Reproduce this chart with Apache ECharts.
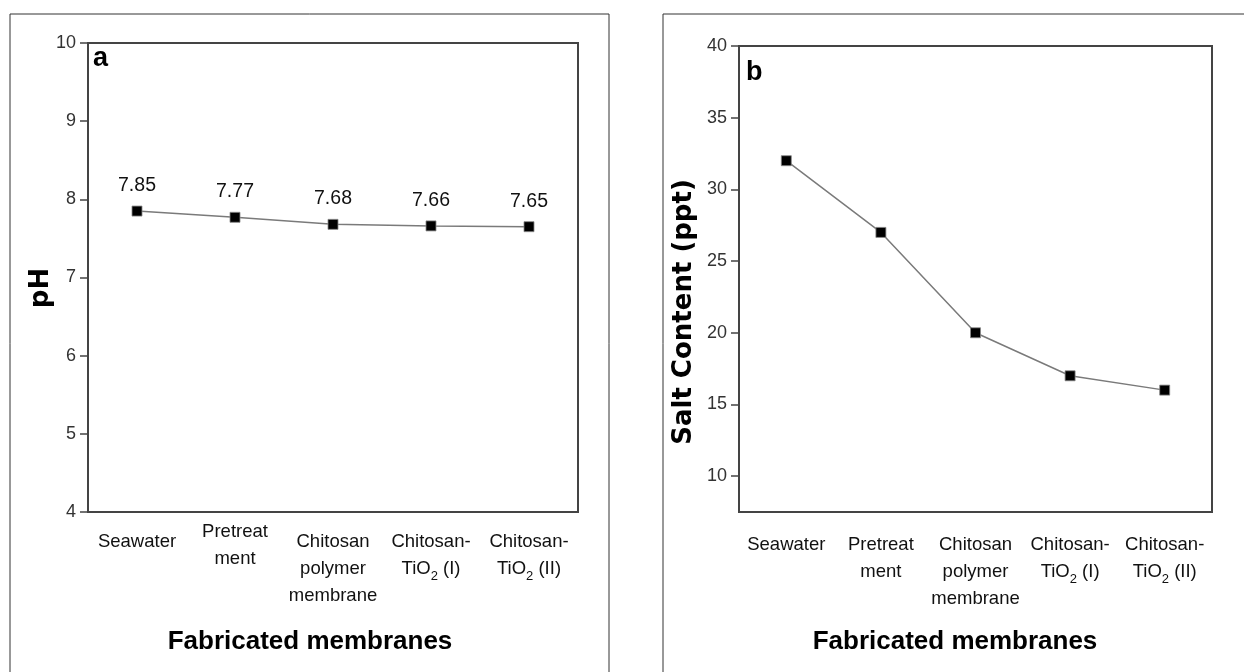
<!DOCTYPE html>
<html>
<head>
<meta charset="utf-8">
<script src="https://cdn.jsdelivr.net/npm/echarts@6/dist/echarts.min.js"></script>
<style>html,body{margin:0;padding:0;background:#fff}#c{width:1244px;height:672px}</style>
</head>
<body>
<div id="c"></div>
<script>
const categories = ['Seawater', 'Pretreat\nment', 'Chitosan\npolymer\nmembrane', 'Chitosan-\nTiO2 (I)', 'Chitosan-\nTiO2 (II)'];
const phValues = [7.85, 7.77, 7.68, 7.66, 7.65];
const saltValues = [32, 27, 20, 17, 16];
const phTickValues = [4, 5, 6, 7, 8, 9, 10];
const saltTickValues = [10, 15, 20, 25, 30, 35, 40];

const NARROW = "'Liberation Sans', Arial, sans-serif";
const AX = '#444';

function catRich(text, spacer) {
  const lines = text.split('\n').map(l => {
    const m = l.match(/^(.*TiO)2(.*)$/);
    if (m) return '{n|' + m[1] + '}{sub|2}{n|' + m[2] + '}';
    return '{n|' + l + '}';
  });
  return (spacer ? '{sp| }\n' : '') + lines.join('\n');
}
const rich = {
  n: { fontFamily: NARROW, fontSize: 18.5, lineHeight: 27, color: '#111' },
  sub: { fontFamily: NARROW, fontSize: 13, lineHeight: 13, verticalAlign: 'bottom', color: '#111' },
  sp: { fontSize: 4, lineHeight: 10 }
};

const chart = echarts.init(document.getElementById('c'), null, { renderer: 'canvas' });
chart.setOption({
  animation: false,
  backgroundColor: '#fff',
  grid: [
    { left: 88, top: 43, width: 490, height: 469, show: true, borderColor: AX, borderWidth: 2, backgroundColor: 'transparent' },
    { left: 739, top: 46, width: 473, height: 466, show: true, borderColor: AX, borderWidth: 2, backgroundColor: 'transparent' }
  ],
  xAxis: [
    {
      type: 'category', gridIndex: 0, data: categories, boundaryGap: true,
      axisLine: { lineStyle: { color: AX, width: 2 } },
      axisTick: { alignWithLabel: true, length: 9, lineStyle: { color: AX, width: 1.5 } },
      axisLabel: { interval: 0, margin: 6.5, verticalAlign: 'top', formatter: (v, i) => catRich(v, i !== 1), rich: rich }
    },
    {
      type: 'category', gridIndex: 1, data: categories, boundaryGap: true,
      axisLine: { lineStyle: { color: AX, width: 2 } },
      axisTick: { alignWithLabel: true, length: 9, lineStyle: { color: AX, width: 1.5 } },
      axisLabel: { interval: 0, margin: 19.5, verticalAlign: 'top', formatter: (v) => catRich(v, false), rich: rich }
    }
  ],
  yAxis: [
    {
      type: 'value', gridIndex: 0, min: phTickValues[0], max: phTickValues[phTickValues.length - 1], interval: 1,
      splitLine: { show: false },
      axisLine: { show: true, lineStyle: { color: AX, width: 2 } },
      axisTick: { show: true, length: 8, lineStyle: { color: AX, width: 1.5 } },
      axisLabel: { margin: 12, fontFamily: NARROW, fontSize: 18, color: '#333' }
    },
    {
      type: 'value', gridIndex: 1, min: 7.5, max: 40,
      splitLine: { show: false },
      axisLine: { show: true, lineStyle: { color: AX, width: 2 } },
      axisTick: { show: true, length: 8, customValues: saltTickValues, lineStyle: { color: AX, width: 1.5 } },
      axisLabel: { margin: 12, fontFamily: NARROW, fontSize: 18, color: '#333', customValues: saltTickValues }
    }
  ],
  series: [
    {
      type: 'line', xAxisIndex: 0, yAxisIndex: 0, data: phValues,
      symbol: 'rect', symbolSize: 10,
      lineStyle: { color: '#7a7a7a', width: 1.5 },
      itemStyle: { color: '#000', borderColor: '#888', borderWidth: 0.8 },
      label: { show: true, position: 'top', distance: 10, fontFamily: NARROW, fontSize: 19.5, color: '#111', formatter: p => p.value.toFixed(2) }
    },
    {
      type: 'line', xAxisIndex: 1, yAxisIndex: 1, data: saltValues,
      symbol: 'rect', symbolSize: 10,
      lineStyle: { color: '#7a7a7a', width: 1.5 },
      itemStyle: { color: '#000', borderColor: '#888', borderWidth: 0.8 }
    }
  ],
  graphic: [
    { type: 'rect', shape: { x: 10, y: 14, width: 599, height: 720 }, style: { fill: 'none', stroke: '#333', lineWidth: 1 }, silent: true },
    { type: 'rect', shape: { x: 663, y: 14, width: 620, height: 720 }, style: { fill: 'none', stroke: '#333', lineWidth: 1 }, silent: true },
    { type: 'text', x: 93, y: 58.5, style: { text: 'a', font: "bold 27px 'Liberation Sans', sans-serif", fill: '#000', align: 'left', verticalAlign: 'middle' } },
    { type: 'text', x: 746, y: 72.5, style: { text: 'b', font: "bold 27px 'Liberation Sans', sans-serif", fill: '#000', align: 'left', verticalAlign: 'middle' } },
    { type: 'text', x: 41, y: 288, rotation: Math.PI / 2, style: { text: 'pH', font: "bold 26px 'DejaVu Sans', sans-serif", fill: '#000', align: 'center', verticalAlign: 'middle' } },
    { type: 'text', x: 684, y: 312, rotation: Math.PI / 2, style: { text: 'Salt Content (ppt)', font: "bold 26px 'DejaVu Sans', sans-serif", fill: '#000', align: 'center', verticalAlign: 'middle' } },
    { type: 'text', x: 310, y: 642, style: { text: 'Fabricated membranes', font: "bold 26px 'Liberation Sans', Arial, sans-serif", fill: '#000', align: 'center', verticalAlign: 'middle' } },
    { type: 'text', x: 955, y: 642, style: { text: 'Fabricated membranes', font: "bold 26px 'Liberation Sans', Arial, sans-serif", fill: '#000', align: 'center', verticalAlign: 'middle' } }
  ]
});
</script>
</body>
</html>
